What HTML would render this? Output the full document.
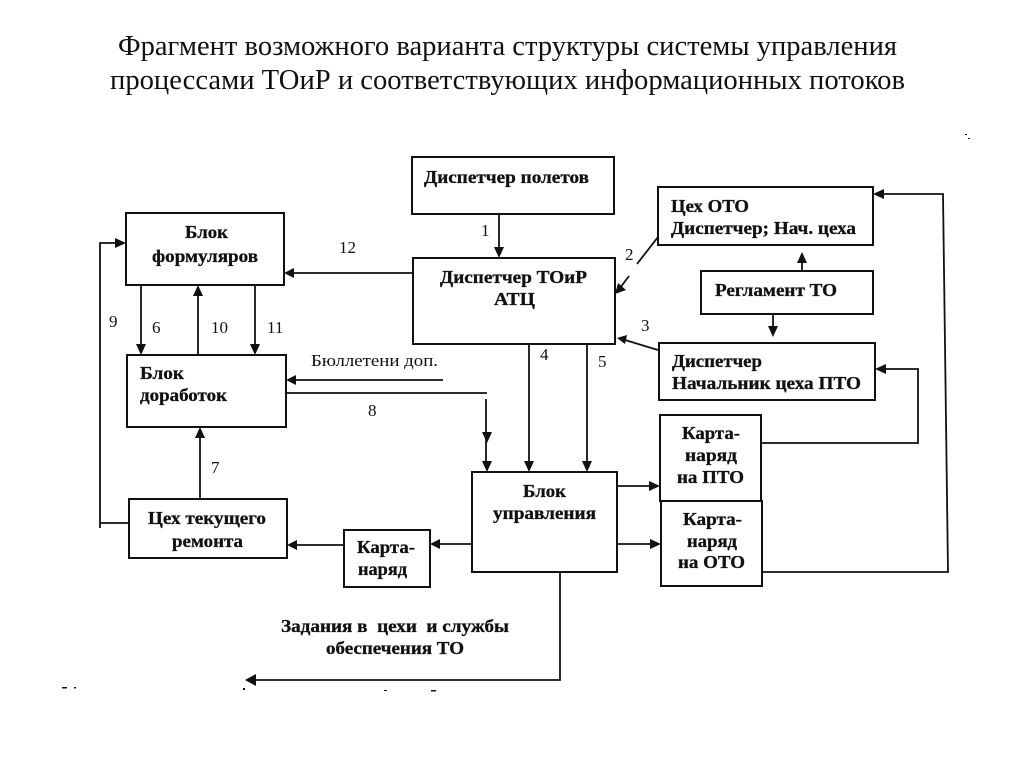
<!DOCTYPE html>
<html lang="ru"><head><meta charset="utf-8"><title>Фрагмент структуры</title>
<style>html,body{margin:0;padding:0;background:#fff}svg{display:block}
.t{font-family:"Liberation Serif","Noto Serif CJK SC",serif;font-size:28px;fill:#111}
.b{font-family:"Liberation Serif","Noto Serif CJK SC",serif;font-size:17.5px;font-weight:bold;fill:#111;stroke:#111;stroke-width:.3}
.n{font-family:"Liberation Serif","Noto Serif CJK SC",serif;font-size:17px;fill:#111}
.l{fill:none;stroke:#111;stroke-width:1.8}
.r{fill:#fff;stroke:#111;stroke-width:2}
.a{fill:#111}
</style></head><body>
<svg xmlns="http://www.w3.org/2000/svg" width="1024" height="767" viewBox="0 0 1024 767">
<rect width="1024" height="767" fill="#fff"/>
<text class="t" x="118" y="55" textLength="779" lengthAdjust="spacingAndGlyphs">Фрагмент возможного варианта структуры системы управления</text>
<text class="t" x="110" y="89" textLength="795" lengthAdjust="spacingAndGlyphs">процессами ТОиР и соответствующих информационных потоков</text>

<rect class="r" x="126" y="213" width="158" height="72"/>
<rect class="r" x="127" y="355" width="159" height="72"/>
<rect class="r" x="412" y="157" width="202" height="57"/>
<rect class="r" x="413" y="258" width="202" height="86"/>
<rect class="r" x="658" y="187" width="215" height="58"/>
<rect class="r" x="701" y="271" width="172" height="43"/>
<rect class="r" x="659" y="343" width="216" height="57"/>
<rect class="r" x="660" y="415" width="101" height="86"/>
<rect class="r" x="661" y="501" width="101" height="85"/>
<rect class="r" x="472" y="472" width="145" height="100"/>
<rect class="r" x="344" y="530" width="86" height="57"/>
<rect class="r" x="129" y="499" width="158" height="59"/>

<g class="l">
<path d="M499 214V250"/>
<path d="M413 273H292"/>
<path d="M129 523H100V243H118"/>
<path d="M100 523V528"/>
<path d="M141 285V347"/>
<path d="M198 355V293"/>
<path d="M255 285V347"/>
<path d="M443 380H294"/>
<path d="M286 393H487"/>
<path d="M486 399V464"/>
<path d="M529 344V464"/>
<path d="M587 344V464"/>
<path d="M200 499V435"/>
<path d="M658 237L637 264"/>
<path d="M629 276L620 288"/>
<path d="M658 350L625 340"/>
<path d="M802 271V260"/>
<path d="M773 314V329"/>
<path d="M761 443H918V369H883"/>
<path d="M762 572H948L943 194H881"/>
<path d="M617 486H652"/>
<path d="M617 544H653"/>
<path d="M472 544H438"/>
<path d="M344 545H295"/>
<path d="M560 572V680H253"/>
</g>
<g class="a">
<path d="M499 258l-5 -11h10z"/>
<path d="M284 273l10 -5v10z"/>
<path d="M126 243l-11 -5v10z"/>
<path d="M141 355l-5 -11h10z"/>
<path d="M198 285l-5 11h10z"/>
<path d="M255 355l-5 -11h10z"/>
<path d="M286 380l10 -5v10z"/>
<path d="M487 443l-5 -11h10z"/>
<path d="M487 472l-5 -11h10z"/>
<path d="M529 472l-5 -11h10z"/>
<path d="M587 472l-5 -11h10z"/>
<path d="M200 427l-5 11h10z"/>
<path d="M615 294l3 -11l8 7z"/>
<path d="M617 338l10 -3l-2 9z"/>
<path d="M802 252l-5 11h10z"/>
<path d="M773 337l-5 -11h10z"/>
<path d="M875 369l11 -5v10z"/>
<path d="M873 194l11 -5v10z"/>
<path d="M660 486l-11 -5v10z"/>
<path d="M661 544l-11 -5v10z"/>
<path d="M430 544l10 -5v10z"/>
<path d="M287 545l10 -5v10z"/>
<path d="M245 680l11 -6v12z"/>
</g>

<text class="b" x="185" y="238" textLength="43" lengthAdjust="spacingAndGlyphs">Блок</text>
<text class="b" x="152" y="262" textLength="106" lengthAdjust="spacingAndGlyphs">формуляров</text>
<text class="b" x="140" y="379" textLength="44" lengthAdjust="spacingAndGlyphs">Блок</text>
<text class="b" x="140" y="401" textLength="87" lengthAdjust="spacingAndGlyphs">доработок</text>
<text class="b" x="424" y="183" textLength="165" lengthAdjust="spacingAndGlyphs">Диспетчер полетов</text>
<text class="b" x="440" y="283" textLength="147" lengthAdjust="spacingAndGlyphs">Диспетчер ТОиР</text>
<text class="b" x="494" y="305" textLength="41" lengthAdjust="spacingAndGlyphs">АТЦ</text>
<text class="b" x="671" y="212" textLength="78" lengthAdjust="spacingAndGlyphs">Цех ОТО</text>
<text class="b" x="671" y="234" textLength="185" lengthAdjust="spacingAndGlyphs">Диспетчер; Нач. цеха</text>
<text class="b" x="715" y="296" textLength="122" lengthAdjust="spacingAndGlyphs">Регламент ТО</text>
<text class="b" x="672" y="367" textLength="90" lengthAdjust="spacingAndGlyphs">Диспетчер</text>
<text class="b" x="672" y="389" textLength="189" lengthAdjust="spacingAndGlyphs">Начальник цеха ПТО</text>
<text class="b" x="682" y="439" textLength="58" lengthAdjust="spacingAndGlyphs">Карта-</text>
<text class="b" x="685" y="461" textLength="52" lengthAdjust="spacingAndGlyphs">наряд</text>
<text class="b" x="677" y="483" textLength="67" lengthAdjust="spacingAndGlyphs">на ПТО</text>
<text class="b" x="683" y="525" textLength="59" lengthAdjust="spacingAndGlyphs">Карта-</text>
<text class="b" x="687" y="547" textLength="50" lengthAdjust="spacingAndGlyphs">наряд</text>
<text class="b" x="678" y="568" textLength="67" lengthAdjust="spacingAndGlyphs">на ОТО</text>
<text class="b" x="523" y="497" textLength="43" lengthAdjust="spacingAndGlyphs">Блок</text>
<text class="b" x="493" y="519" textLength="103" lengthAdjust="spacingAndGlyphs">управления</text>
<text class="b" x="148" y="524" textLength="118" lengthAdjust="spacingAndGlyphs">Цех текущего</text>
<text class="b" x="172" y="547" textLength="71" lengthAdjust="spacingAndGlyphs">ремонта</text>
<text class="b" x="357" y="553" textLength="58" lengthAdjust="spacingAndGlyphs">Карта-</text>
<text class="b" x="358" y="575" textLength="49" lengthAdjust="spacingAndGlyphs">наряд</text>
<text class="b" x="281" y="632" textLength="228" lengthAdjust="spacingAndGlyphs" xml:space="preserve">Задания в  цехи  и службы</text>
<text class="b" x="326" y="654" textLength="138" lengthAdjust="spacingAndGlyphs">обеспечения ТО</text>
<text class="n" x="311" y="366" textLength="127" lengthAdjust="spacingAndGlyphs">Бюллетени доп.</text>
<text class="n" x="339" y="253">12</text>
<text class="n" x="109" y="327">9</text>
<text class="n" x="152" y="333">6</text>
<text class="n" x="211" y="333">10</text>
<text class="n" x="267" y="333">11</text>
<text class="n" x="368" y="416">8</text>
<text class="n" x="481" y="236">1</text>
<text class="n" x="625" y="260">2</text>
<text class="n" x="641" y="331">3</text>
<text class="n" x="540" y="360">4</text>
<text class="n" x="598" y="367">5</text>
<text class="n" x="211" y="473">7</text>

<g class="a">
<rect x="62" y="687" width="5" height="1.5"/><rect x="74" y="687" width="2" height="1.5"/>
<rect x="243" y="688" width="2" height="2"/><rect x="384" y="690" width="3" height="1"/><rect x="431" y="690" width="5" height="1.5"/>
<rect x="965" y="134" width="2" height="1"/><rect x="968" y="138" width="2" height="1"/>
</g>
</svg>
</body></html>
